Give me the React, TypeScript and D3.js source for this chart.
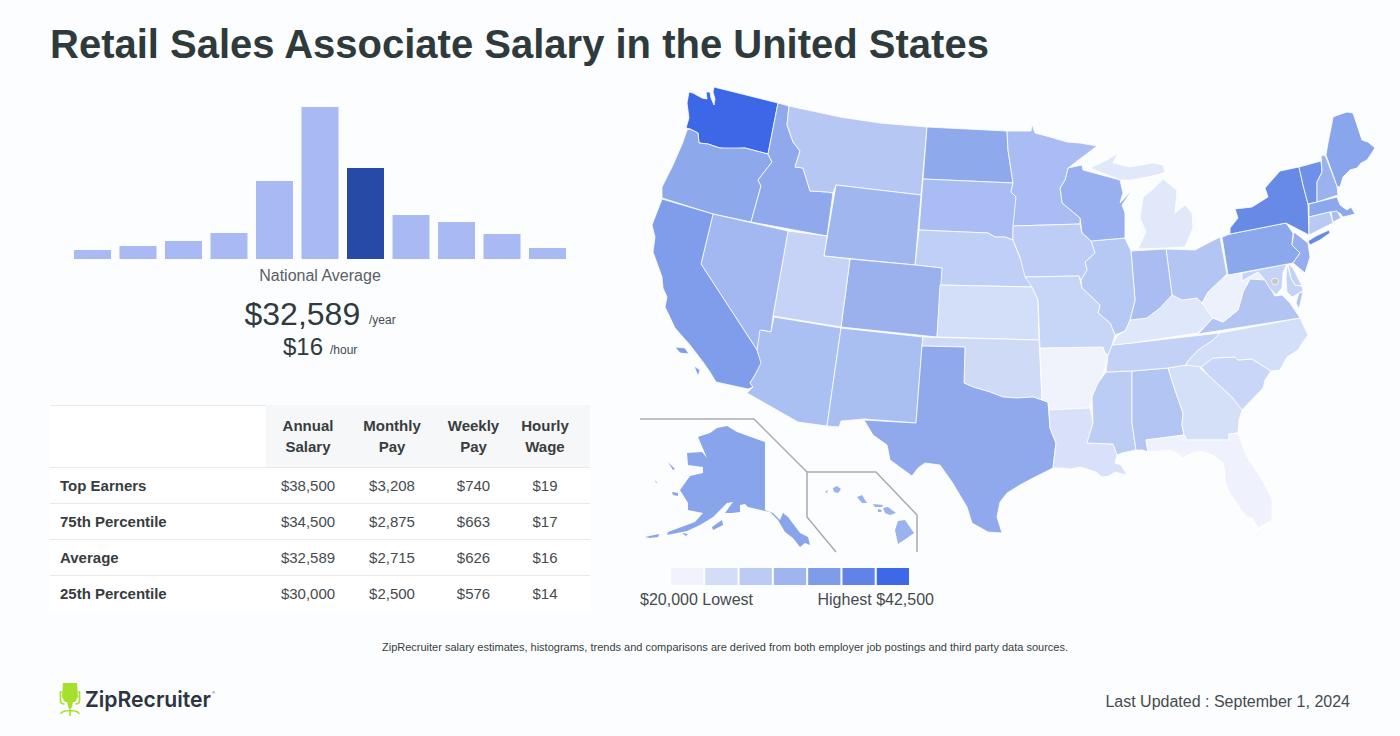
import React from "react";
import * as d3 from "d3";

type Pt = [number, number];

const binCounts = [9, 13, 18, 26, 78, 152, 91, 44, 37, 25, 11];
const averageBin = 6;

const tableColumns = ["Annual|Salary", "Monthly|Pay", "Weekly|Pay", "Hourly|Wage"];
const rowLabels = ["Top Earners", "75th Percentile", "Average", "25th Percentile"];
const annualValues = ["$38,500", "$34,500", "$32,589", "$30,000"];
const monthlyValues = ["$3,208", "$2,875", "$2,715", "$2,500"];
const weeklyValues = ["$740", "$663", "$626", "$576"];
const hourlyValues = ["$19", "$17", "$16", "$14"];

const legendColors = ["#f0f3fd", "#d3ddf8", "#bccbf4", "#a0b5f0", "#7f9cea", "#5f83e6", "#3d69e6"];

const WA: Pt[] = [[689, 92], [693, 93], [702, 98], [707, 99], [706, 92], [710, 92], [711, 98], [714, 105], [715, 99], [713, 92], [714, 87], [778, 103], [768, 154], [745, 148], [730, 149], [720, 148], [708, 144], [699, 143], [698, 133], [690, 129], [686, 128], [689, 118], [687, 103]];
const OR: Pt[] = [[687, 130], [690, 129], [698, 133], [699, 143], [708, 144], [720, 148], [745, 148], [768, 154], [772, 162], [758, 180], [761, 186], [751, 222], [713, 214], [662, 198], [662, 187], [673, 165], [683, 142]];
const ID: Pt[] = [[778, 103], [789, 106], [787, 125], [793, 142], [800, 151], [795, 167], [803, 168], [810, 191], [828, 192], [833, 193], [827, 236], [751, 222], [761, 186], [758, 180], [772, 162], [768, 154]];
const MT: Pt[] = [[789, 106], [840, 117], [880, 123], [927, 127], [921, 195], [836, 185], [833, 193], [828, 192], [810, 191], [803, 168], [795, 167], [800, 151], [793, 142], [787, 125]];
const WY: Pt[] = [[836, 185], [921, 195], [915, 265], [824, 256]];
const ND: Pt[] = [[927, 127], [1007, 131], [1008, 150], [1013, 183], [923, 179]];
const SD: Pt[] = [[923, 179], [1013, 183], [1011, 192], [1016, 197], [1016, 225], [1013, 227], [1013, 240], [1005, 237], [995, 237], [988, 233], [919, 230]];
const NE: Pt[] = [[919, 230], [988, 233], [995, 237], [1005, 237], [1013, 240], [1020, 258], [1028, 270], [1032, 287], [940, 285], [942, 268], [915, 265]];
const CO: Pt[] = [[850, 259], [915, 265], [942, 268], [937, 337], [841, 327]];
const UT: Pt[] = [[788, 231], [827, 236], [824, 256], [850, 259], [841, 327], [773, 316]];
const NV: Pt[] = [[713, 214], [788, 231], [773, 316], [771, 332], [762, 330], [757, 350], [701, 264]];
const CA: Pt[] = [[662, 199], [713, 214], [701, 264], [757, 350], [762, 363], [755, 375], [750, 383], [753, 387], [748, 389], [716, 382], [710, 372], [703, 362], [690, 345], [675, 328], [665, 307], [667, 297], [663, 288], [662, 277], [653, 252], [655, 237], [652, 225]];
const CAisles: Pt[] = [[675, 347], [685, 348], [689, 354], [680, 353]];
const CAisles2: Pt[] = [[694, 366], [700, 370], [698, 376]];
const AZ: Pt[] = [[774, 317], [841, 328], [827, 426], [798, 422], [747, 393], [753, 387], [750, 383], [755, 375], [761, 363], [757, 350], [760, 330], [771, 332]];
const NM: Pt[] = [[841, 328], [923, 337], [922, 346], [916, 423], [864, 419], [841, 421], [839, 427], [827, 426]];
const OK: Pt[] = [[923, 337], [1039, 340], [1042, 400], [1033, 397], [1017, 398], [1003, 397], [990, 392], [973, 387], [964, 383], [965, 347], [922, 346]];
const KS: Pt[] = [[940, 285], [1032, 287], [1038, 300], [1039, 340], [937, 337]];
const TX: Pt[] = [[922, 346], [965, 347], [964, 383], [973, 387], [990, 392], [1003, 397], [1017, 398], [1033, 397], [1042, 400], [1048, 402], [1050, 428], [1056, 443], [1053, 468], [1033, 478], [1020, 485], [1007, 493], [1000, 502], [997, 517], [1002, 533], [988, 532], [972, 523], [967, 507], [961, 497], [952, 482], [940, 465], [925, 463], [918, 468], [912, 476], [890, 460], [887, 445], [873, 435], [864, 420], [916, 423]];
const AR: Pt[] = [[1040, 348], [1103, 347], [1105, 353], [1108, 355], [1103, 375], [1098, 383], [1092, 397], [1090, 408], [1049, 410], [1048, 402], [1042, 400]];
const LA: Pt[] = [[1049, 410], [1090, 408], [1092, 417], [1093, 423], [1087, 443], [1113, 444], [1117, 455], [1115, 463], [1121, 465], [1127, 475], [1115, 472], [1109, 476], [1102, 477], [1096, 472], [1090, 470], [1080, 467], [1071, 469], [1062, 468], [1053, 468], [1056, 443], [1050, 428]];
const MS: Pt[] = [[1106, 372], [1132, 371], [1132, 423], [1136, 450], [1122, 453], [1117, 455], [1113, 444], [1087, 443], [1093, 423], [1092, 397], [1098, 383]];
const AL: Pt[] = [[1132, 371], [1168, 368], [1175, 390], [1183, 413], [1182, 425], [1184, 435], [1146, 440], [1148, 452], [1143, 450], [1136, 450], [1132, 423]];
const GA: Pt[] = [[1168, 368], [1186, 365], [1203, 364], [1200, 368], [1210, 377], [1232, 397], [1242, 410], [1239, 420], [1238, 433], [1229, 434], [1229, 440], [1187, 440], [1184, 435], [1182, 425], [1183, 413], [1175, 390]];
const FL: Pt[] = [[1146, 440], [1184, 435], [1187, 440], [1229, 440], [1229, 434], [1238, 433], [1247, 457], [1258, 473], [1266, 487], [1272, 500], [1272, 520], [1258, 528], [1252, 518], [1247, 517], [1240, 508], [1230, 493], [1225, 482], [1225, 473], [1223, 463], [1213, 455], [1200, 451], [1192, 453], [1183, 458], [1175, 452], [1170, 450], [1158, 451], [1148, 452]];
const FLkeys: Pt[] = [[1272, 523], [1258, 535], [1250, 540], [1258, 533]];
const SC: Pt[] = [[1201, 367], [1213, 358], [1235, 357], [1238, 360], [1252, 359], [1271, 371], [1265, 380], [1263, 388], [1242, 410], [1232, 397], [1210, 377]];
const NC: Pt[] = [[1187, 362], [1198, 350], [1213, 340], [1220, 333], [1300, 318], [1308, 335], [1303, 342], [1298, 350], [1287, 357], [1280, 370], [1271, 371], [1252, 359], [1238, 360], [1235, 357], [1213, 358], [1201, 367], [1186, 365]];
const TN: Pt[] = [[1112, 345], [1132, 343], [1220, 333], [1213, 340], [1198, 350], [1187, 362], [1186, 365], [1168, 368], [1132, 371], [1106, 372], [1108, 355]];
const KY: Pt[] = [[1112, 345], [1118, 335], [1125, 331], [1130, 320], [1147, 318], [1160, 308], [1172, 295], [1182, 300], [1197, 298], [1202, 303], [1213, 318], [1198, 333], [1132, 343]];
const VA: Pt[] = [[1198, 334], [1300, 318], [1290, 303], [1282, 295], [1275, 296], [1270, 288], [1265, 280], [1257, 272], [1250, 279], [1243, 292], [1238, 310], [1223, 322], [1213, 318]];
const VAshore: Pt[] = [[1299, 293], [1303, 292], [1299, 309], [1296, 303]];
const WV: Pt[] = [[1227, 275], [1242, 273], [1242, 281], [1258, 272], [1265, 280], [1250, 279], [1243, 292], [1238, 310], [1223, 322], [1213, 318], [1202, 303], [1210, 288], [1223, 278]];
const MDwest: Pt[] = [[1242, 273], [1287, 264], [1283, 272], [1282, 288], [1276, 295], [1268, 286], [1265, 280], [1258, 272], [1242, 281]];
const MDeast: Pt[] = [[1287, 264], [1291, 278], [1295, 285], [1302, 286], [1303, 291], [1292, 297], [1287, 292], [1286, 280]];
const DE: Pt[] = [[1288, 264], [1293, 268], [1297, 276], [1302, 286], [1295, 285], [1291, 278]];
const PA: Pt[] = [[1222, 237], [1230, 234], [1286, 223], [1293, 233], [1292, 245], [1300, 253], [1293, 263], [1228, 275]];
const NY: Pt[] = [[1230, 234], [1230, 228], [1238, 218], [1235, 209], [1252, 207], [1268, 197], [1265, 188], [1280, 171], [1299, 167], [1303, 185], [1308, 204], [1309, 235], [1286, 223]];
const LongIsland: Pt[] = [[1308, 241], [1316, 236], [1329, 230], [1330, 233], [1320, 240], [1310, 245]];
const VT: Pt[] = [[1299, 167], [1321, 161], [1322, 172], [1317, 182], [1317, 202], [1308, 204], [1303, 185]];
const NH: Pt[] = [[1321, 156], [1325, 155], [1337, 186], [1338, 195], [1317, 202], [1317, 182], [1322, 172]];
const ME: Pt[] = [[1326, 155], [1328, 143], [1332, 123], [1333, 117], [1338, 115], [1347, 112], [1353, 113], [1362, 140], [1368, 142], [1375, 148], [1367, 160], [1361, 163], [1357, 168], [1350, 170], [1343, 177], [1340, 187], [1337, 186]];
const MA: Pt[] = [[1309, 204], [1337, 197], [1340, 205], [1347, 210], [1351, 207], [1355, 214], [1343, 217], [1340, 213], [1330, 212], [1309, 217]];
const CT: Pt[] = [[1309, 217], [1330, 212], [1333, 223], [1309, 235]];
const RI: Pt[] = [[1331, 212], [1337, 211], [1341, 218], [1333, 222]];
const NJ: Pt[] = [[1294, 232], [1308, 243], [1310, 257], [1305, 273], [1293, 263], [1300, 253], [1292, 245]];
const OH: Pt[] = [[1166, 249], [1195, 250], [1210, 242], [1220, 237], [1227, 274], [1208, 292], [1202, 303], [1197, 298], [1182, 300], [1172, 295]];
const IN: Pt[] = [[1131, 251], [1166, 249], [1172, 295], [1160, 308], [1147, 318], [1130, 320], [1135, 300]];
const IL: Pt[] = [[1091, 241], [1125, 238], [1131, 251], [1135, 300], [1130, 320], [1125, 331], [1115, 335], [1110, 323], [1098, 313], [1100, 305], [1082, 288], [1081, 280], [1087, 270], [1085, 262], [1095, 253]];
const MO: Pt[] = [[1025, 277], [1079, 276], [1082, 288], [1100, 305], [1098, 313], [1110, 323], [1115, 335], [1112, 345], [1108, 355], [1105, 353], [1103, 347], [1040, 348], [1038, 300], [1032, 287]];
const IA: Pt[] = [[1013, 226], [1080, 224], [1082, 233], [1091, 241], [1095, 253], [1085, 262], [1087, 270], [1081, 280], [1079, 276], [1025, 277], [1020, 257], [1013, 240]];
const MN: Pt[] = [[1007, 131], [1031, 131], [1032, 124], [1035, 133], [1050, 137], [1067, 142], [1080, 143], [1097, 146], [1068, 168], [1065, 180], [1060, 188], [1062, 203], [1080, 218], [1080, 224], [1013, 226], [1016, 197], [1011, 192], [1013, 183], [1008, 150]];
const WI: Pt[] = [[1068, 168], [1082, 165], [1083, 170], [1120, 180], [1123, 193], [1120, 203], [1132, 190], [1122, 205], [1125, 213], [1125, 238], [1091, 241], [1082, 233], [1080, 218], [1062, 203], [1060, 188], [1065, 180]];
const MIupper: Pt[] = [[1090, 168], [1107, 160], [1118, 153], [1113, 163], [1130, 167], [1153, 163], [1163, 165], [1165, 172], [1157, 175], [1132, 180], [1120, 180]];
const MIlower: Pt[] = [[1138, 249], [1166, 248], [1185, 247], [1193, 228], [1192, 213], [1185, 205], [1175, 213], [1177, 190], [1163, 179], [1152, 190], [1143, 197], [1140, 218], [1146, 232]];
const AK: Pt[] = [[698, 437], [710, 433], [717, 428], [727, 426], [737, 432], [765, 442], [765, 510], [773, 513], [780, 520], [783, 513], [788, 517], [800, 533], [808, 537], [810, 545], [805, 543], [800, 547], [793, 538], [785, 532], [778, 520], [770, 512], [748, 507], [745, 504], [740, 505], [740, 512], [732, 513], [725, 513], [733, 502], [727, 503], [713, 517], [700, 525], [687, 531], [667, 535], [668, 532], [695, 522], [703, 513], [688, 510], [688, 503], [680, 490], [690, 476], [703, 473], [703, 467], [688, 465], [687, 453], [702, 452], [707, 458]];
const Kodiak: Pt[] = [[712, 527], [722, 520], [723, 525], [713, 530]];
const Aleutian1: Pt[] = [[645, 537], [659, 534], [658, 537], [650, 538]];
const Aleutian2: Pt[] = [[682, 533], [688, 534], [686, 536]];
const StLawrence: Pt[] = [[668, 462], [675, 469], [673, 470]];
const Nunivak: Pt[] = [[672, 492], [678, 493], [678, 496], [673, 495]];
const StMatthew: Pt[] = [[655, 480], [657, 483], [656, 483]];
const Kauai: Pt[] = [[833, 488], [837, 486], [841, 489], [838, 493], [834, 492]];
const Niihau: Pt[] = [[825, 492], [828, 490], [827, 493]];
const Oahu: Pt[] = [[857, 497], [862, 495], [867, 503], [862, 503]];
const Molokai: Pt[] = [[873, 504], [883, 505], [882, 507], [875, 507]];
const Lanai: Pt[] = [[878, 509], [882, 510], [881, 512], [878, 512]];
const Maui: Pt[] = [[883, 508], [888, 507], [896, 513], [890, 515], [885, 513]];
const BigIsland: Pt[] = [[898, 521], [905, 520], [914, 533], [907, 538], [898, 544], [895, 530]];

const stateFills: [string, Pt[][], string][] = [
  ["WA", [WA], "#3c68e7"], ["OR", [OR], "#8da9ec"], ["ID", [ID], "#8fa9ec"], ["MT", [MT], "#b6c7f3"],
  ["WY", [WY], "#a0b6ef"], ["ND", [ND], "#8faaec"], ["SD", [SD], "#a9bcf4"], ["NE", [NE], "#c0cff5"],
  ["CO", [CO], "#9ab1ee"], ["UT", [UT], "#c6d3f6"], ["NV", [NV], "#a3b8f0"], ["CA", [CA, CAisles, CAisles2], "#7f9deb"],
  ["AZ", [AZ], "#aac0f2"], ["NM", [NM], "#a9bff2"], ["KS", [KS], "#d3dff8"], ["OK", [OK], "#cfdaf7"],
  ["TX", [TX], "#90a9ec"], ["AR", [AR], "#f0f3fc"], ["LA", [LA], "#d8e1f9"], ["MS", [MS], "#bccdf5"],
  ["AL", [AL], "#b3c6f3"], ["GA", [GA], "#d4dff8"], ["FL", [FL, FLkeys], "#eff2fd"], ["SC", [SC], "#c9d6f7"],
  ["NC", [NC], "#d3dff8"], ["TN", [TN], "#c3d1f6"], ["KY", [KY], "#dfe7fa"], ["VA", [VA, VAshore], "#b2c5f2"],
  ["WV", [WV], "#edf1fc"], ["MD", [MDwest, MDeast], "#c5d3f6"], ["DE", [DE], "#c5d3f6"], ["OH", [OH], "#b3c6f3"],
  ["IN", [IN], "#a9bdf3"], ["IL", [IL], "#b6c8f4"], ["MI", [MIupper, MIlower], "#e1e8fa"], ["WI", [WI], "#98aff0"],
  ["MN", [MN], "#a9bcf3"], ["IA", [IA], "#bdcdf5"], ["MO", [MO], "#c7d5f6"], ["PA", [PA], "#8ba8ed"],
  ["NY", [NY, LongIsland], "#668ae6"], ["VT", [VT], "#6f90e8"], ["NH", [NH], "#9ab3ef"], ["ME", [ME], "#89a5ec"],
  ["MA", [MA], "#8ba8ed"], ["CT", [CT], "#b8c9f4"], ["RI", [RI], "#a8bdf1"], ["NJ", [NJ], "#96aeef"],
];
const insetFills: [string, Pt[][], string][] = [
  ["AK", [AK, Kodiak, Aleutian1, Aleutian2, StLawrence, Nunivak, StMatthew], "#88a5ec"],
  ["HI", [Kauai, Niihau, Oahu, Molokai, Lanai, Maui, BigIsland], "#9ab3ef"],
];

const alaskaFrame: Pt[] = [[640, 419], [754, 419], [807, 472], [807, 517], [836, 552]];
const hawaiiFrame: Pt[] = [[807, 472], [876, 472], [917, 515], [917, 552]];
const dcPoint: Pt = [1275, 281.5];

const FONT = '"Liberation Sans", Arial, Helvetica, sans-serif';
const INK = "#2f3a3d";
const BODY = "#454b4e";
const STRONG = "#373d40";

export default function App() {
  const x = d3.scaleBand<number>().domain(binCounts.map((_, i) => i)).range([74, 566]).paddingInner(8.5 / 45.5).paddingOuter(0);
  const y = d3.scaleLinear().domain([0, d3.max(binCounts) as number]).range([259, 107]);
  const geo = d3.geoPath(d3.geoIdentity());
  const line = d3.line();
  const legendX = d3.scaleBand<number>().domain(legendColors.map((_, i) => i)).range([671, 909]).paddingInner(0.06).paddingOuter(0);
  const colCenters = [308, 392, 473.5, 545];
  const rowValues = [annualValues, monthlyValues, weeklyValues, hourlyValues];
  const rowY = d3.scaleLinear().domain([0, 1]).range([467, 503]);
  const shape = (rings: Pt[][]) =>
    geo({ type: "MultiPolygon", coordinates: rings.map((ring) => [[...ring, ring[0]]]) } as any) as string;

  return (
    <svg width={1400} height={736} viewBox="0 0 1400 736" style={{ position: "absolute", left: 0, top: 0, display: "block" }} fontFamily={FONT}>
      <rect width={1400} height={736} fill="#fbfdff" />
      <text x={50} y={58} fontSize={40} fontWeight={700} fill={INK}>Retail Sales Associate Salary in the United States</text>

      {binCounts.map((v, i) => (
        <rect key={i} x={x(i)} y={y(v)} width={x.bandwidth()} height={y(0) - y(v)} fill={i === averageBin ? "#274aa6" : "#a9b9f3"} />
      ))}
      <text x={320} y={281} textAnchor="middle" fontSize={16} fill="#5a6063">National Average</text>
      <text x={244.5} y={325} fontSize={32} fill={INK}>$32,589</text>
      <text x={369} y={324} fontSize={12} fill={BODY}>/year</text>
      <text x={283} y={354.5} fontSize={24} fill={INK}>$16</text>
      <text x={330} y={354} fontSize={12} fill={BODY}>/hour</text>

      <rect x={50} y={405} width={540} height={206} fill="#ffffff" />
      <rect x={266} y={405} width={324} height={62} fill="#f6f7f8" />
      <line x1={50} x2={266} y1={405.5} y2={405.5} stroke="#e9ebec" />
      {tableColumns.map((c, i) => (
        <text key={c} textAnchor="middle" fontSize={15} fontWeight={700} fill={STRONG}>
          {c.split("|").map((part, j) => (
            <tspan key={j} x={colCenters[i]} y={431 + j * 21}>{part}</tspan>
          ))}
        </text>
      ))}
      {rowLabels.map((label, r) => (
        <g key={label}>
          <line x1={50} x2={590} y1={rowY(r) + 0.5} y2={rowY(r) + 0.5} stroke="#e7e9eb" />
          <text x={60} y={rowY(r) + 24} fontSize={15} fontWeight={700} fill={STRONG}>{label}</text>
          {rowValues.map((vals, c) => (
            <text key={c} x={colCenters[c]} y={rowY(r) + 24} textAnchor="middle" fontSize={15} fill={BODY}>{vals[r]}</text>
          ))}
        </g>
      ))}

      {stateFills.map(([name, rings, fill]) => (
        <path key={name} d={shape(rings)} fill={fill} stroke="#ffffff" strokeWidth={0.8} strokeLinejoin="round" />
      ))}
      {insetFills.map(([name, rings, fill]) => (
        <path key={name} d={shape(rings)} fill={fill} />
      ))}
      <circle cx={dcPoint[0]} cy={dcPoint[1]} r={3.5} fill="#c9c9c6" stroke="#f0f0ee" strokeWidth={1} />
      <path d={line(alaskaFrame) as string} fill="none" stroke="#a9abae" strokeWidth={1.5} />
      <path d={line(hawaiiFrame) as string} fill="none" stroke="#a9abae" strokeWidth={1.5} />

      {legendColors.map((c, i) => (
        <rect key={c} x={legendX(i)} y={568} width={legendX.bandwidth()} height={17} fill={c} />
      ))}
      <text x={640} y={605} fontSize={16} fill={BODY}>$20,000 Lowest</text>
      <text x={934} y={605} textAnchor="end" fontSize={16} fill={BODY}>Highest $42,500</text>

      <text x={725} y={651} textAnchor="middle" fontSize={11} fill={STRONG}>ZipRecruiter salary estimates, histograms, trends and comparisons are derived from both employer job postings and third party data sources.</text>

      <g fill="none" stroke="#a5e02c" strokeWidth={1.6}>
        <path d="M63 683 h14 l1 14 l-3 5 h-10 l-3 -5 z" fill="#a5e02c" stroke="none" />
        <path d="M67 702 h6 l-1.5 6 h-3 z" fill="#a5e02c" stroke="none" />
        <path d="M62 692 h-1.5 v9 q0 3 4 3 M78 692 h1.5 v9 q0 3 -4 3" />
        <path d="M70 708 v8 M61 714 q0 -3 9 -3.5 q9 .5 9 3.5" />
      </g>
      <text x={85} y={707} fontFamily='Inter, "Open Sans", sans-serif' fontSize={22} fontWeight={600} fill="#2d333f" textLength={126} lengthAdjust="spacingAndGlyphs">ZipRecruiter</text>
      <text x={212} y={694} fontSize={4} fill="#2d333f">®</text>
      <text x={1350} y={707} textAnchor="end" fontSize={16} fill={BODY}>Last Updated : September 1, 2024</text>
    </svg>
  );
}
